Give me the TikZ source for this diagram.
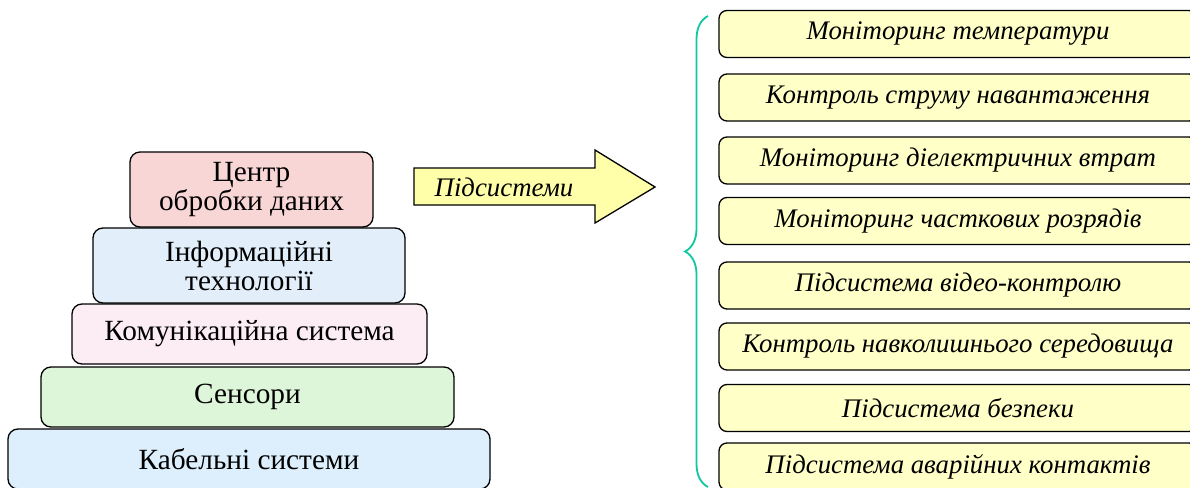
\documentclass[tikz,border=0pt]{standalone}
\usepackage{fontspec}
\setmainfont{Liberation Serif}
\usetikzlibrary{positioning,decorations.pathreplacing}
\definecolor{centrefill}{HTML}{F9D6D6}
\definecolor{infofill}{HTML}{E2EEF9}
\definecolor{commfill}{HTML}{FCECF4}
\definecolor{sensfill}{HTML}{DDF5D8}
\definecolor{cablefill}{HTML}{DDEFFC}
\definecolor{subfill}{HTML}{FFFFC8}
\definecolor{arrowfill}{HTML}{FFFFAA}
\definecolor{bracecol}{HTML}{10C8A0}
\tikzset{every picture/.append style={line width=1.3pt}}

\begin{document}
\begin{tikzpicture}[x=1pt,y=-1pt]
      \tikzstyle{layer}=[draw,rounded corners=10pt,align=center,inner sep=0pt,font=\fontsize{29.3}{29}\selectfont]
      \tikzstyle{subsys}=[draw,rounded corners=8pt,fill=subfill,minimum width=478pt,minimum height=47pt,inner sep=0pt,font=\fontsize{26.8}{27}\selectfont\itshape]
      \useasboundingbox (0,0) rectangle (1190,487);
      % pyramid
      \node[layer,fill=centrefill,minimum width=243pt,minimum height=75pt] at (251.5,189.5) (centre) {Центр\\обробки даних};
      \node[layer,fill=infofill,minimum width=312pt,minimum height=75pt] at (249,265.5) (info) {Інформаційні\\технології};
      \node[layer,fill=commfill,minimum width=355pt,minimum height=60pt] at (249.5,334) (comm) {Комунікаційна система};
      \node[layer,fill=sensfill,minimum width=413pt,minimum height=60pt] at (247.5,397) (sens) {Сенсори};
      \node[layer,fill=cablefill,minimum width=482pt,minimum height=60pt] at (249,459) (cable) {Кабельні системи};
      % block arrow
      \draw[fill=arrowfill] (414,168) -- (595,168) -- (595,150) -- (655,187) -- (595,223) -- (595,205) -- (414,205) -- cycle;
      \node[font=\fontsize{26.8}{27}\selectfont\itshape] at (504,187) (subs) {Підсистеми};
      % subsystems
      \coordinate (bbot) at (708,487);
      \coordinate (btop) at (708,16);
      \draw[bracecol,line width=1.8pt,decorate,decoration={brace,amplitude=23pt}] (bbot) -- (btop);
      \node[subsys] at (958,34) (temp) {Моніторинг температури};
      \node[subsys] at (958,97.5) (load) {Контроль струму навантаження};
      \node[subsys] at (958,160.5) (diel) {Моніторинг діелектричних втрат};
      \node[subsys] at (958,221) (pd) {Моніторинг часткових розрядів};
      \node[subsys] at (958,285.5) (video) {Підсистема відео-контролю};
      \node[subsys] at (958,346.5) (env) {Контроль навколишнього середовища};
      \node[subsys] at (958,408) (secur) {Підсистема безпеки};
      \node[subsys] at (958,466.5) (alarm) {Підсистема аварійних контактів};
    \end{tikzpicture}
\end{document}
